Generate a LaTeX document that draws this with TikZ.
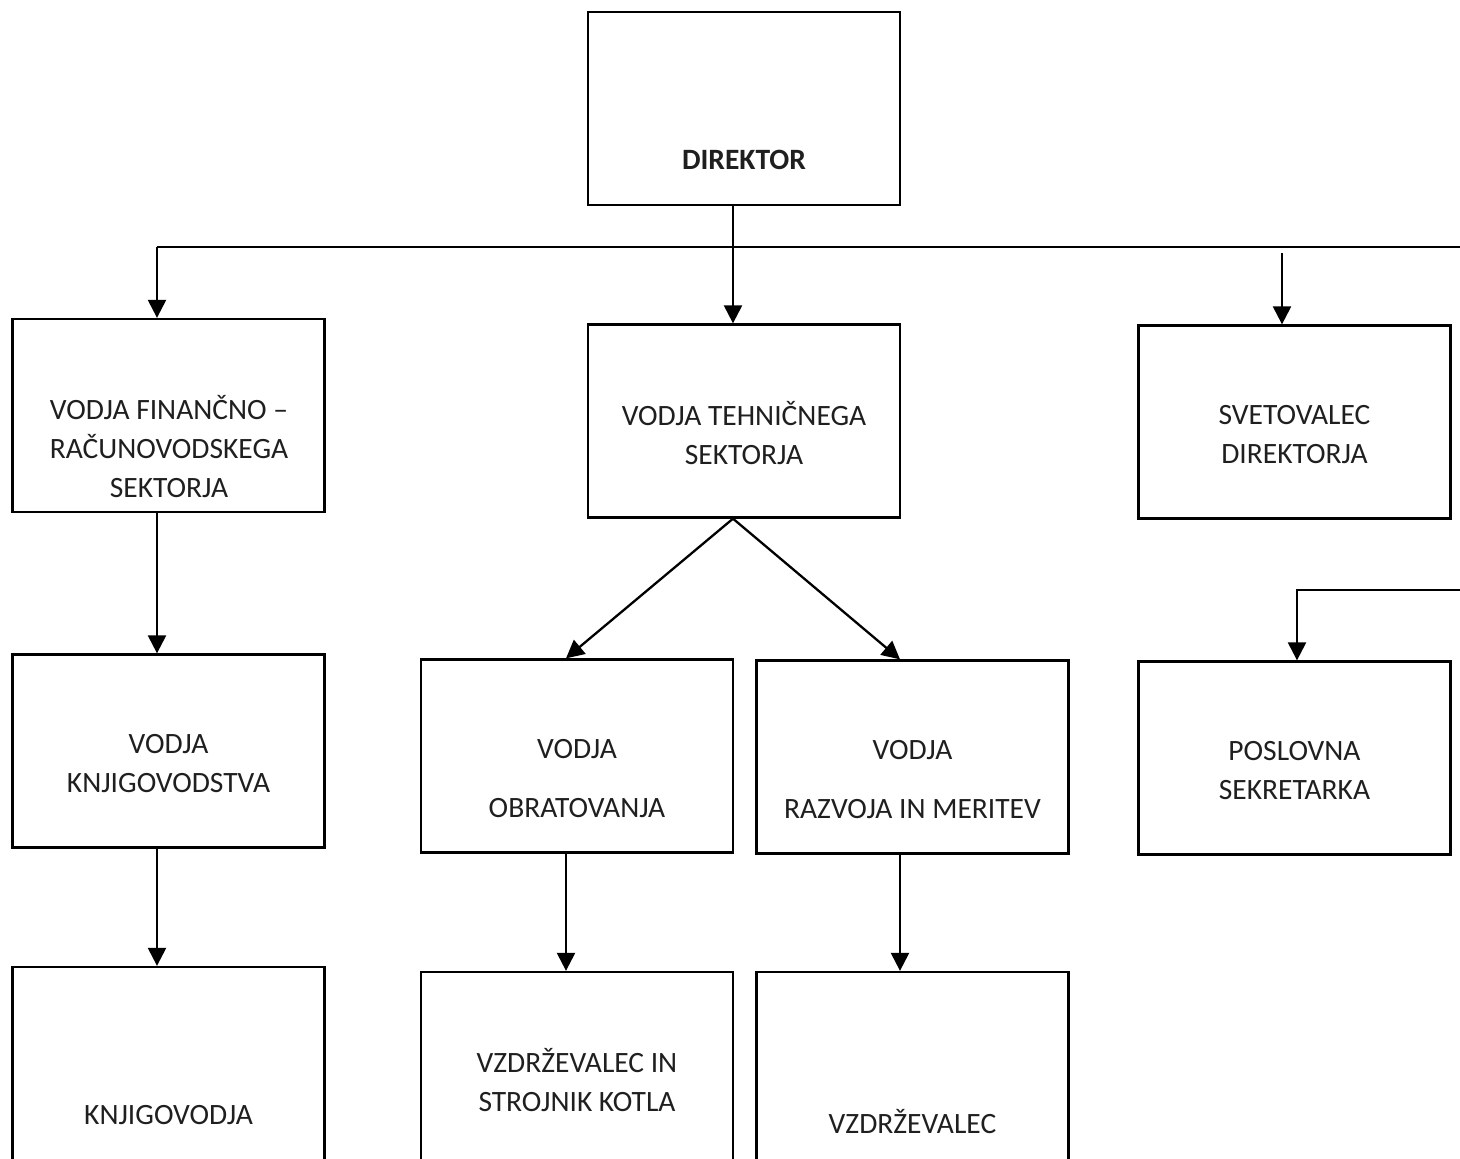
\documentclass[tikz,border=0pt]{standalone}
\usepackage{fontspec}
\setmainfont{Carlito}
\usetikzlibrary{arrows.meta}
\tikzset{
	box/.style={draw, line width=2.3pt, minimum width=312pt, minimum height=193pt, inner sep=0pt},
	txt/.style={align=center, inner sep=0pt, text=black!88, font=\fontsize{29.5}{39}\selectfont},
	arr/.style={line width=2.3pt, -{Triangle[length=18pt,width=18pt]}},
	ln/.style={line width=2.3pt}
}
\begin{document}
\begin{tikzpicture}[x=1pt,y=-1pt]
		\useasboundingbox (0,0) rectangle (1460,1159);
		\clip (0,0) rectangle (1460,1159);
		% boxes
		\node[box] (dir) at (744,108.5) {};
		\node[box] (fin) at (168.5,415.5) {};
		\node[box] (teh) at (744,421) {};
		\node[box] (svet) at (1294.5,422) {};
		\node[box] (knjv) at (168.5,751) {};
		\node[box] (knj) at (168.5,1063.5) {};
		\node[box] (obr) at (577,756) {};
		\node[box] (raz) at (912.5,757) {};
		\node[box] (vzs) at (577,1068.5) {};
		\node[box] (vz) at (912.5,1068.5) {};
		\node[box] (pos) at (1294.5,758) {};
		% texts
		\node[txt, font=\fontsize{29.5}{39}\selectfont\bfseries] (dirT) at (744,160) {DIREKTOR};
		\node[txt] (finT) at (169,447) {VODJA FINANČNO –\\RAČUNOVODSKEGA\\SEKTORJA};
		\node[txt] (tehT) at (744,433.5) {VODJA TEHNIČNEGA\\SEKTORJA};
		\node[txt] (svetT) at (1294.5,434.5) {SVETOVALEC\\DIREKTORJA};
		\node[txt] (knjvT) at (168.5,763.5) {VODJA\\KNJIGOVODSTVA};
		\node[txt] (knjT) at (168.5,1115) {KNJIGOVODJA};
		\node[txt] (obrT) at (577,778.5) {VODJA\\[20pt]OBRATOVANJA};
		\node[txt] (razT) at (912.5,779.5) {VODJA\\[20pt]RAZVOJA IN MERITEV};
		\node[txt] (vzsT) at (577,1080.5) {VZDRŽEVALEC IN\\STROJNIK KOTLA};
		\node[txt] (vzT) at (912.5,1122) {VZDRŽEVALEC};
		\node[txt] (posT) at (1294.5,770.5) {POSLOVNA\\SEKRETARKA};
		% connectors
		\coordinate (barL) at (157,247);
		\coordinate (barR) at (1460,247);
		\coordinate (barS) at (1282,253);
		\coordinate (sideR) at (1460,590);
		\draw[ln] (barL)--(barR);
		\draw[arr] ([xshift=-11pt]dir.south)--([xshift=-11pt]teh.north);
		\draw[arr] (barL)--([xshift=-11.5pt]fin.north);
		\draw[arr] (barS)--([xshift=-12.5pt]svet.north);
		\draw[arr] ([xshift=-11.5pt]fin.south)--([xshift=-11.5pt]knjv.north);
		\draw[arr] ([xshift=-11.5pt]knjv.south)--([xshift=-11.5pt]knj.north);
		\draw[arr] ([xshift=-11pt]teh.south)--([xshift=-11pt]obr.north);
		\draw[arr] ([xshift=-11pt]teh.south)--([xshift=-12.5pt]raz.north);
		\draw[arr] ([xshift=-11pt]obr.south)--([xshift=-11pt]vzs.north);
		\draw[arr] ([xshift=-12.5pt]raz.south)--([xshift=-12.5pt]vz.north);
		\draw[arr] (sideR)-|([xshift=2.5pt]pos.north);
\end{tikzpicture}
\end{document}
